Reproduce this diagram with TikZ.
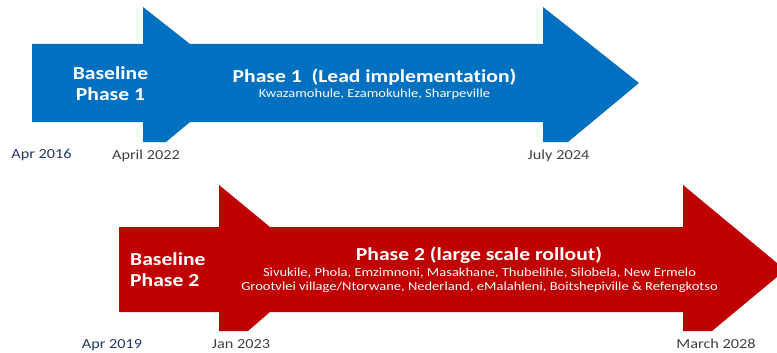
\documentclass[tikz,border=0pt]{standalone}
\usepackage{fontspec}
\setmainfont{Carlito}[FakeStretch=1.18, Ligatures=NoCommon]
\definecolor{bluearr}{HTML}{0070C0}
\definecolor{redarr}{HTML}{C00000}
\definecolor{datenavy}{HTML}{203864}
\definecolor{dategrey}{HTML}{404040}
\tikzset{
  bigtext/.style={font=\bfseries\fontsize{18.3}{20.8}\selectfont, text=white, inner sep=0pt, align=center},
  subtext/.style={font=\fontsize{12.3}{13.3}\selectfont, text=white, inner sep=0pt, align=center},
  navydate/.style={font=\fontsize{13.8}{16}\selectfont, text=datenavy, inner sep=0pt, anchor=base},
  greydate/.style={font=\fontsize{13.8}{16}\selectfont, text=dategrey, inner sep=0pt, anchor=base},
}
\begin{document}
\begin{tikzpicture}[x=1pt,y=-1pt]
\useasboundingbox (0,0) rectangle (777,353);
% blue arrow
\fill[bluearr] (32,44) -- (143,44) -- (143,7) -- (190,44) -- (543,44) -- (543,7) -- (639,83)
  -- (568,142) -- (543,142) -- (543,122) -- (190,122) -- (166,142) -- (143,142) -- (143,122)
  -- (32,122) -- cycle;
% red arrow
\fill[redarr] (119,227) -- (219,227) -- (219,185) -- (270,227) -- (683,227) -- (683,185)
  -- (777,263) -- (777,277) -- (712,331) -- (683,331) -- (683,312) -- (270,312) -- (248,331)
  -- (219,331) -- (219,312) -- (119,312) -- cycle;
% texts phase 1 (multi-line nodes: base = last line)
\node[bigtext, anchor=base] (bl1) at (110.5,100.3) {Baseline\\Phase 1};
\node[bigtext, anchor=base] (ph1) at (374.5,82) {Phase 1~~(Lead implementation)};
\node[subtext, anchor=base] (ph1s) at (374.5,97.5) {Kwazamohule, Ezamokuhle, Sharpeville};
% texts phase 2
\node[bigtext, anchor=base west, align=left] (bl2) at (130,286) {Baseline\\Phase 2};
\node[bigtext, anchor=base] (ph2) at (479,260) {Phase 2 (large scale rollout)};
\node[subtext, anchor=base] (ph2s) at (479.5,290) {Sivukile, Phola, Emzimnoni, Masakhane, Thubelihle, Silobela, New Ermelo\\Grootvlei village/Ntorwane, Nederland, eMalahleni, Boitshepiville \& Refengkotso};
% dates
\node[navydate] (d1) at (41.5,158.5) {Apr 2016};
\node[greydate] (d2) at (146,159) {April 2022};
\node[greydate] (d3) at (558.5,159) {July 2024};
\node[navydate] (d4) at (112,348) {Apr 2019};
\node[greydate] (d5) at (241,348) {Jan 2023};
\node[greydate] (d6) at (716,348) {March 2028};
\end{tikzpicture}
\end{document}
